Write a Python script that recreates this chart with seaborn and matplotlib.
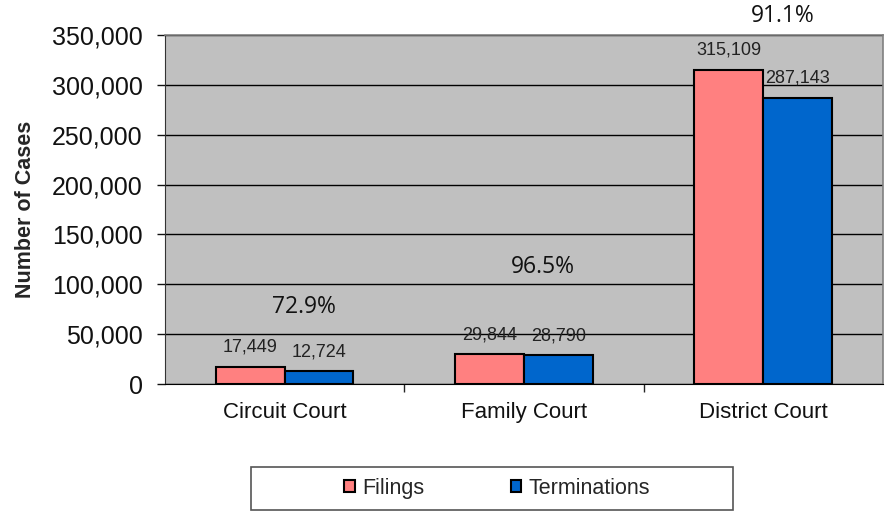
import numpy as np
import pandas as pd
import seaborn as sns
import matplotlib.pyplot as plt
from matplotlib.patches import Rectangle
from matplotlib.ticker import FuncFormatter, FixedLocator

# Data
courts = ["Circuit Court", "Family Court", "District Court"]
filings = [17449, 29844, 315109]
terminations = [12724, 28790, 287143]
series_names = ["Filings", "Terminations"]
pct_label_y = [77000, 117000, 369000]   # where the clearance-rate labels sit

df = pd.DataFrame({
    "court": courts * 2,
    "series": [series_names[0]] * 3 + [series_names[1]] * 3,
    "cases": filings + terminations,
})

sns.set_style("white")
plt.rcParams["font.family"] = ["Liberation Sans", "DejaVu Sans"]

fig = plt.figure(figsize=(8.91, 5.12), dpi=100)
ax = fig.add_axes([0.185, 0.25, 0.806, 0.6816])
ax.set_facecolor("#C0C0C0")

sns.barplot(data=df, x="court", y="cases", hue="series", order=courts,
            hue_order=series_names, palette=["#FF8080", "#0066CC"],
            width=0.575, edgecolor="black", linewidth=1.5, saturation=1,
            ax=ax, zorder=3)

ax.set_ylim(0, 350000)
ax.set_xlim(-0.5, 2.5)
ax.yaxis.set_major_locator(FixedLocator(np.arange(0, 350001, 50000)))
ax.yaxis.set_major_formatter(FuncFormatter(lambda v, p: f"{int(v):,}"))
ax.grid(axis="y", color="black", linewidth=1.0, zorder=0)
ax.set_axisbelow(True)

# value labels
for cont in ax.containers:
    ax.bar_label(cont, labels=[f"{h:,.0f}" for h in cont.datavalues],
                 padding=8, fontsize=13, color="#222222")

# clearance rate (terminations / filings)
for i, (f, t) in enumerate(zip(filings, terminations)):
    ax.text(i + 0.08, pct_label_y[i], f"{t / f * 100:.1f}%", ha="center",
            va="center", fontsize=16.5, family=["Open Sans", "DejaVu Sans"],
            color="#111111", clip_on=False)

ax.set_xlabel("")
ax.set_ylabel("Number of Cases", fontsize=15.5, fontweight="bold", labelpad=11)
ax.tick_params(axis="y", labelsize=18, length=6, width=1, direction="out",
               left=True, pad=10, colors="#111111")
ax.tick_params(axis="x", which="major", labelsize=16, length=0, pad=13,
               colors="#111111")
ax.set_xticks([0.5, 1.5], minor=True)
ax.tick_params(axis="x", which="minor", length=6, width=1, direction="out",
               bottom=True)

for side in ["top", "right"]:
    ax.spines[side].set_color("#808080")
    ax.spines[side].set_linewidth(1.2)
ax.spines["left"].set_color("#333333")
ax.spines["bottom"].set_color("black")

# legend box drawn separately so the entries sit centred inside it
fig.patches.append(Rectangle((0.2817, 0.004), 0.541, 0.084,
                             transform=fig.transFigure, facecolor="white",
                             edgecolor="#555555", linewidth=1.2))
handles, labels = ax.get_legend_handles_labels()
ax.legend_.remove()
fig.legend(handles, labels, loc="center", ncol=2,
           bbox_to_anchor=(0.558, 0.046), bbox_transform=fig.transFigure,
           frameon=False, fontsize=15.5, handlelength=0.5, handleheight=0.5,
           handletextpad=0.35, columnspacing=4.0, borderaxespad=0)

fig.savefig("out.png", dpi=100)
